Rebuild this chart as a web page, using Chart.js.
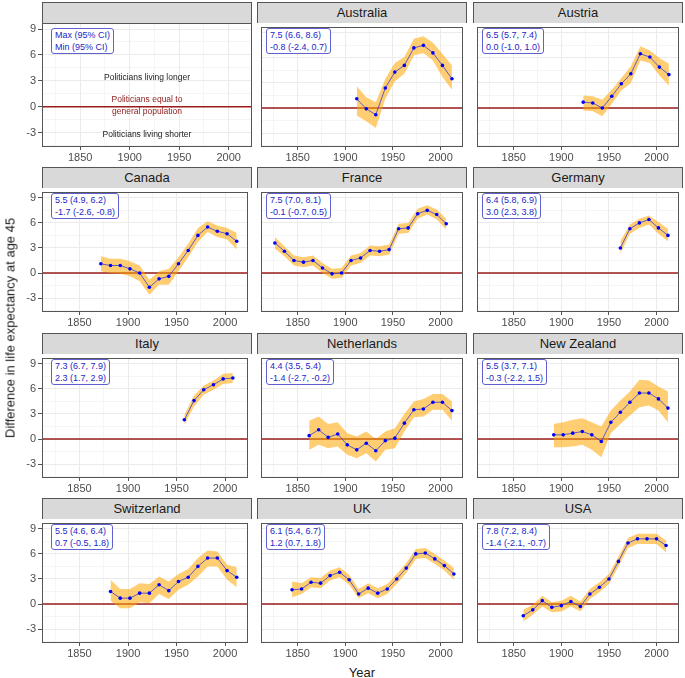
<!DOCTYPE html>
<html>
<head>
<meta charset="utf-8">
<script src="https://cdn.jsdelivr.net/npm/chart.js@4/dist/chart.umd.min.js"></script>
<style>
  body { margin: 0; background: #fff; }
  #wrap { position: relative; width: 685px; height: 678px; background: #fff; font-family: 'Liberation Sans', Arial, sans-serif; }
  .strip { position: absolute; box-sizing: border-box; width: 210px; height: 21px; background: #d9d9d9; border: 1px solid #555; border-bottom: none; text-align: center; line-height: 20px; font-size: 13px; color: #1a1a1a; }
  .box { position: absolute; border: 1px solid #6060d0; border-radius: 3px; background: #fff; padding: 0 3px; font-size: 9px; line-height: 12px; color: #2525c8; white-space: nowrap; }
  .note { position: absolute; transform: translate(-50%, -50%); font-size: 8.5px; white-space: nowrap; }
  canvas { position: absolute; }
</style>
</head>
<body>
<div id="wrap"></div>
<script>
// tick labels and grid
const xTicks = [1850, 1900, 1950, 2000];
const xMinor = [1825, 1875, 1925, 1975];
const yTicks = [-3, 0, 3, 6, 9];
const yMinor = [-4.5, -1.5, 1.5, 4.5, 7.5];
const refValue = 0;

const countries = ['', 'Australia', 'Austria', 'Canada', 'France', 'Germany', 'Italy', 'Netherlands', 'New Zealand', 'Switzerland', 'UK', 'USA'];

const australiaYears = [1912, 1922, 1932, 1942, 1952, 1962, 1972, 1982, 1992, 2002, 2012];
const australiaValues = [1.1, -0.1, -0.8, 2.4, 4.3, 5.1, 7.2, 7.5, 6.6, 5.1, 3.5];
const australiaLower = [-0.9, -1.6, -2.4, 1.1, 3.2, 4.1, 6.3, 6.6, 5.7, 3.7, 2.2];
const australiaUpper = [2.6, 1.3, 0.7, 3.5, 5.4, 6.1, 8.3, 8.6, 7.8, 6.5, 5.1];

const austriaYears = [1923, 1933, 1943, 1953, 1963, 1973, 1983, 1993, 2003, 2013];
const austriaValues = [0.7, 0.6, 0.0, 1.4, 2.9, 4.1, 6.5, 6.1, 4.9, 4.0];
const austriaLower = [-0.3, -0.4, -1.0, 0.5, 2.1, 3.0, 5.7, 5.4, 3.9, 2.7];
const austriaUpper = [1.5, 1.4, 1.0, 2.2, 3.6, 5.0, 7.4, 6.9, 6.0, 5.3];

const canadaYears = [1872, 1882, 1892, 1902, 1912, 1922, 1932, 1942, 1952, 1962, 1972, 1982, 1992, 2002, 2012];
const canadaValues = [1.1, 0.9, 0.9, 0.5, 0.0, -1.7, -0.7, -0.4, 1.1, 2.7, 4.5, 5.5, 5.0, 4.7, 3.8];
const canadaLower = [0.2, 0.0, -0.1, -0.4, -1.0, -2.6, -1.4, -1.4, 0.2, 1.9, 3.7, 4.9, 4.3, 4.0, 2.8];
const canadaUpper = [2.0, 1.7, 1.7, 1.4, 0.9, -0.8, 0.2, 0.5, 1.9, 3.5, 5.4, 6.2, 5.7, 5.4, 4.8];

const franceYears = [1826, 1836, 1846, 1856, 1866, 1876, 1886, 1896, 1906, 1916, 1926, 1936, 1946, 1956, 1966, 1976, 1986, 1996, 2006];
const franceValues = [3.6, 2.6, 1.5, 1.3, 1.5, 0.6, -0.1, 0.0, 1.5, 1.8, 2.7, 2.6, 2.8, 5.3, 5.4, 7.1, 7.5, 7.0, 5.9];
const franceLower = [2.9, 2.0, 0.9, 0.7, 0.9, 0.0, -0.7, -0.6, 0.9, 1.2, 2.1, 2.0, 2.2, 4.7, 4.8, 6.5, 7.0, 6.4, 5.2];
const franceUpper = [4.3, 3.2, 2.1, 1.9, 2.1, 1.2, 0.5, 0.6, 2.1, 2.4, 3.3, 3.2, 3.4, 5.9, 6.0, 7.7, 8.1, 7.6, 6.5];

const germanyYears = [1962, 1972, 1982, 1992, 2002, 2012];
const germanyValues = [3.0, 5.3, 6.0, 6.4, 5.4, 4.5];
const germanyLower = [2.3, 4.7, 5.4, 5.8, 4.7, 3.8];
const germanyUpper = [3.8, 5.8, 6.5, 6.9, 6.1, 5.3];

const italyYears = [1958, 1968, 1978, 1988, 1998, 2008];
const italyValues = [2.3, 4.6, 5.9, 6.5, 7.2, 7.3];
const italyLower = [1.7, 3.9, 5.3, 5.9, 6.6, 6.7];
const italyUpper = [2.9, 5.2, 6.4, 7.0, 7.8, 7.9];

const netherlandsYears = [1862, 1872, 1882, 1892, 1902, 1912, 1922, 1932, 1942, 1952, 1962, 1972, 1982, 1992, 2002, 2012];
const netherlandsValues = [0.4, 1.1, 0.2, 0.6, -0.7, -1.3, -0.5, -1.4, -0.2, 0.1, 1.9, 3.5, 3.6, 4.4, 4.4, 3.4];
const netherlandsLower = [-1.3, -0.7, -1.1, -0.9, -1.9, -2.3, -1.7, -2.7, -1.3, -1.1, 0.9, 2.6, 2.7, 3.5, 3.5, 2.2];
const netherlandsUpper = [2.2, 2.7, 1.8, 2.0, 0.7, 0.3, 0.9, 0.0, 0.9, 1.3, 3.0, 4.5, 4.8, 5.4, 5.4, 4.5];

const newZealandYears = [1892, 1902, 1912, 1922, 1932, 1942, 1952, 1962, 1972, 1982, 1992, 2002, 2012];
const newZealandValues = [0.5, 0.5, 0.7, 0.9, 0.5, -0.3, 2.0, 3.2, 4.4, 5.5, 5.5, 4.8, 3.7];
const newZealandLower = [-1.0, -1.0, -0.9, -0.7, -1.3, -2.2, 0.7, 1.8, 2.8, 3.8, 4.0, 3.4, 2.0];
const newZealandUpper = [1.8, 2.0, 2.3, 2.5, 2.0, 1.5, 3.4, 4.6, 5.7, 7.1, 7.0, 6.3, 5.7];

const switzerlandYears = [1882, 1892, 1902, 1912, 1922, 1932, 1942, 1952, 1962, 1972, 1982, 1992, 2002, 2012];
const switzerlandValues = [1.5, 0.7, 0.7, 1.3, 1.3, 2.3, 1.6, 2.7, 3.2, 4.5, 5.5, 5.5, 4.0, 3.2];
const switzerlandLower = [0.4, -0.5, -0.5, 0.2, 0.1, 1.2, 0.6, 1.7, 2.3, 3.3, 4.5, 4.5, 2.9, 2.0];
const switzerlandUpper = [2.9, 1.8, 1.8, 2.5, 2.4, 3.3, 2.7, 3.6, 4.2, 5.5, 6.4, 6.3, 4.7, 4.4];

const ukYears = [1844, 1854, 1864, 1874, 1884, 1894, 1904, 1914, 1924, 1934, 1944, 1954, 1964, 1974, 1984, 1994, 2004, 2014];
const ukValues = [1.7, 1.8, 2.6, 2.5, 3.4, 3.8, 2.9, 1.2, 1.9, 1.3, 1.8, 3.0, 4.3, 6.0, 6.1, 5.4, 4.6, 3.6];
const ukLower = [0.8, 1.2, 2.0, 1.9, 2.8, 3.2, 2.3, 0.7, 1.3, 0.7, 1.2, 2.4, 3.7, 5.4, 5.5, 4.8, 4.0, 2.9];
const ukUpper = [2.7, 2.5, 3.2, 3.1, 4.0, 4.4, 3.5, 1.8, 2.5, 1.9, 2.4, 3.6, 4.9, 6.6, 6.7, 6.0, 5.2, 4.3];

const usaYears = [1860, 1870, 1880, 1890, 1900, 1910, 1920, 1930, 1940, 1950, 1960, 1970, 1980, 1990, 2000, 2010];
const usaValues = [-1.4, -0.7, 0.4, -0.4, -0.2, 0.3, -0.3, 1.2, 2.0, 3.0, 5.1, 7.3, 7.8, 7.8, 7.8, 7.0];
const usaLower = [-2.1, -1.3, -0.3, -1.0, -0.9, -0.3, -0.9, 0.6, 1.4, 2.4, 4.5, 6.7, 7.2, 7.2, 7.2, 6.2];
const usaUpper = [-0.7, -0.1, 1.0, 0.2, 0.4, 1.0, 0.3, 1.8, 2.6, 3.6, 5.7, 7.9, 8.4, 8.4, 8.4, 7.6];

const maxLabels = ['Max (95% CI)', '7.5 (6.6, 8.6)', '6.5 (5.7, 7.4)', '5.5 (4.9, 6.2)', '7.5 (7.0, 8.1)', '6.4 (5.8, 6.9)', '7.3 (6.7, 7.9)', '4.4 (3.5, 5.4)', '5.5 (3.7, 7.1)', '5.5 (4.6, 6.4)', '6.1 (5.4, 6.7)', '7.8 (7.2, 8.4)'];
const minLabels = ['Min (95% CI)', '-0.8 (-2.4, 0.7)', '0.0 (-1.0, 1.0)', '-1.7 (-2.6, -0.8)', '-0.1 (-0.7, 0.5)', '3.0 (2.3, 3.8)', '2.3 (1.7, 2.9)', '-1.4 (-2.7, -0.2)', '-0.3 (-2.2, 1.5)', '0.7 (-0.5, 1.8)', '1.2 (0.7, 1.8)', '-1.4 (-2.1, -0.7)'];

const series = [
  [[], [], [], []],
  [australiaYears, australiaValues, australiaLower, australiaUpper],
  [austriaYears, austriaValues, austriaLower, austriaUpper],
  [canadaYears, canadaValues, canadaLower, canadaUpper],
  [franceYears, franceValues, franceLower, franceUpper],
  [germanyYears, germanyValues, germanyLower, germanyUpper],
  [italyYears, italyValues, italyLower, italyUpper],
  [netherlandsYears, netherlandsValues, netherlandsLower, netherlandsUpper],
  [newZealandYears, newZealandValues, newZealandLower, newZealandUpper],
  [switzerlandYears, switzerlandValues, switzerlandLower, switzerlandUpper],
  [ukYears, ukValues, ukLower, ukUpper],
  [usaYears, usaValues, usaLower, usaUpper]
];

// layout
const colLeft = [42, 257, 473];
const rowTop = [2, 167, 333, 498];
const panelW = 210, stripH = 21, plotH = 124, xAxisH = 18, yAxisW = 28;
const xMin = 1811.4, xMax = 2023.6, yMin = -4.67, yMax = 9.7;
const fontFamily = "'Liberation Sans', Arial, sans-serif";
const wrap = document.getElementById('wrap');

const zeroLine = {
  id: 'zeroLine',
  beforeDatasetsDraw(chart) {
    const { ctx, chartArea, scales } = chart;
    const y = scales.y.getPixelForValue(refValue);
    ctx.save();
    ctx.strokeStyle = '#9b1c1c';
    ctx.lineWidth = 1.5;
    ctx.beginPath();
    ctx.moveTo(chartArea.left, y);
    ctx.lineTo(chartArea.right, y);
    ctx.stroke();
    ctx.restore();
  }
};

const panelBorder = {
  id: 'panelBorder',
  afterDraw(chart) {
    const { ctx, chartArea } = chart;
    ctx.save();
    ctx.strokeStyle = '#555';
    ctx.lineWidth = 1;
    ctx.strokeRect(chartArea.left + 0.5, chartArea.top + 0.5, chartArea.width - 1, chartArea.height - 1);
    ctx.restore();
  }
};

function addDiv(cls, text, css) {
  const d = document.createElement('div');
  d.className = cls;
  d.textContent = text;
  Object.assign(d.style, css);
  wrap.appendChild(d);
  return d;
}

function points(xs, ys) {
  return xs.map((x, i) => ({ x: x, y: ys[i] }));
}

function makePanel(i) {
  const r = Math.floor(i / 3), c = i % 3;
  const left = colLeft[c], top = rowTop[r];
  const firstCol = c === 0;
  const yw = firstCol ? yAxisW : 0;
  const [years, values, lower, upper] = series[i];

  addDiv('strip', countries[i], { left: left + 'px', top: top + 'px' });

  const canvas = document.createElement('canvas');
  canvas.width = panelW + yw;
  canvas.height = plotH + xAxisH;
  canvas.style.left = (left - yw) + 'px';
  canvas.style.top = (top + stripH) + 'px';
  canvas.style.width = canvas.width + 'px';
  canvas.style.height = canvas.height + 'px';
  wrap.appendChild(canvas);

  const box = addDiv('box', '', { left: (left + 9) + 'px', top: (top + stripH + 5) + 'px' });
  box.innerHTML = `<div>${maxLabels[i]}</div><div>${minLabels[i]}</div>`;

  new Chart(canvas, {
    type: 'line',
    data: {
      datasets: [
        { data: points(years, values), borderColor: '#3d3dc8', borderWidth: 0.8, pointRadius: 1.8, pointBackgroundColor: '#0000ff', pointBorderWidth: 0, fill: false, tension: 0 },
        { data: points(years, upper), borderColor: 'rgba(0,0,0,0)', borderWidth: 0, pointRadius: 0, fill: '+1', backgroundColor: 'rgba(255,165,0,0.55)' },
        { data: points(years, lower), borderColor: 'rgba(0,0,0,0)', borderWidth: 0, pointRadius: 0, fill: false }
      ]
    },
    options: {
      responsive: false,
      animation: false,
      devicePixelRatio: 1,
      layout: { padding: 0 },
      plugins: { legend: { display: false }, tooltip: { enabled: false } },
      scales: {
        x: {
          type: 'linear', min: xMin, max: xMax,
          afterBuildTicks: s => { s.ticks = xMinor.concat(xTicks).sort((a, b) => a - b).map(v => ({ value: v })); },
          afterFit: s => { s.height = xAxisH; s.paddingLeft = 0; s.paddingRight = 0; },
          ticks: {
            callback: v => xTicks.includes(v) ? String(v) : '',
            font: { size: 11, family: fontFamily }, color: '#4d4d4d', padding: 1, maxRotation: 0, autoSkip: false
          },
          grid: {
            color: '#ebebeb',
            lineWidth: ctx => ctx.tick && xTicks.includes(ctx.tick.value) ? 1 : 0.5,
            tickLength: 3,
            tickColor: ctx => ctx.tick && xTicks.includes(ctx.tick.value) ? '#555' : 'rgba(0,0,0,0)'
          },
          border: { display: false }
        },
        y: {
          type: 'linear', min: yMin, max: yMax,
          afterBuildTicks: s => { s.ticks = yMinor.concat(yTicks).sort((a, b) => a - b).map(v => ({ value: v })); },
          afterFit: s => { s.width = yw; s.paddingTop = 0; s.paddingBottom = 0; },
          ticks: {
            display: firstCol,
            autoSkip: false,
            callback: v => yTicks.includes(v) ? String(v) : '',
            font: { size: 11, family: fontFamily }, color: '#4d4d4d', padding: 2
          },
          grid: {
            color: '#ebebeb',
            lineWidth: ctx => ctx.tick && yTicks.includes(ctx.tick.value) ? 1 : 0.5,
            drawTicks: firstCol,
            tickLength: 4,
            tickColor: ctx => ctx.tick && yTicks.includes(ctx.tick.value) ? '#555' : 'rgba(0,0,0,0)'
          },
          border: { display: false }
        }
      }
    },
    plugins: [zeroLine, panelBorder]
  });
}

for (let i = 0; i < countries.length; i++) {
  makePanel(i);
}

// notes in the key panel
addDiv('note', 'Politicians living longer', { left: '147px', top: '77px', color: '#1a1a1a' });
addDiv('note', 'Politicians equal to', { left: '147px', top: '99px', color: '#8b1a1a' });
addDiv('note', 'general population', { left: '147px', top: '111px', color: '#8b1a1a' });
addDiv('note', 'Politicians living shorter', { left: '147px', top: '134px', color: '#1a1a1a' });

// axis titles
addDiv('note', 'Difference in life expectancy at age 45', { left: '10px', top: '328px', fontSize: '13px', color: '#1a1a1a', transform: 'translate(-50%, -50%) rotate(-90deg)' });
addDiv('note', 'Year', { left: '362px', top: '672px', fontSize: '13px', color: '#1a1a1a' });
</script>
</body>
</html>
